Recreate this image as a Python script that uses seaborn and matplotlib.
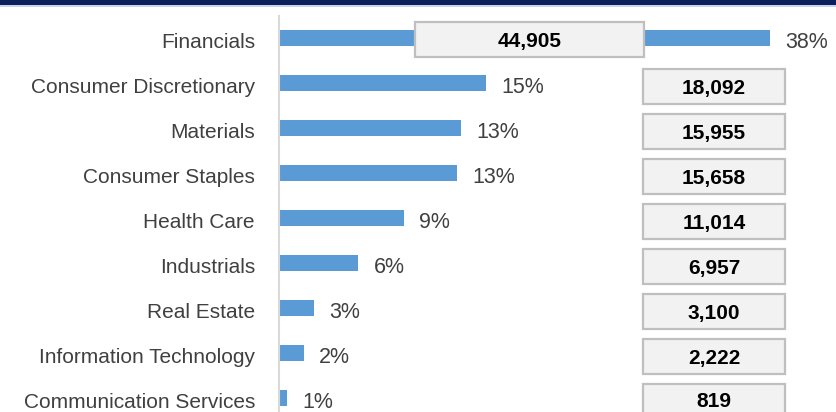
import matplotlib
matplotlib.use("Agg")
import matplotlib.pyplot as plt
import matplotlib.transforms as mtrans
import seaborn as sns
import pandas as pd
from matplotlib.patches import Rectangle

categories = ["Financials", "Consumer Discretionary", "Materials", "Consumer Staples",
              "Health Care", "Industrials", "Real Estate", "Information Technology",
              "Communication Services"]
shares = [37.8, 15.9, 14.0, 13.7, 9.6, 6.1, 2.7, 1.9, 0.6]
share_labels = ["38%", "15%", "13%", "13%", "9%", "6%", "3%", "2%", "1%"]
values = ["44,905", "18,092", "15,955", "15,658", "11,014", "6,957", "3,100", "2,222", "819"]

df = pd.DataFrame({"category": categories, "share": shares})

sns.set_theme(style="white")
plt.rcParams["font.family"] = ["Liberation Sans", "DejaVu Sans"]

W, H = 837, 412
fig = plt.figure(figsize=(W / 100, H / 100), dpi=100)
ax_left = 279 / W
ax_top_px = 16
ax = fig.add_axes([ax_left, 0, 1 - ax_left, (H - ax_top_px) / H])

sns.barplot(data=df, x="share", y="category", color="#5b9bd5", width=0.37,
            saturation=1, ax=ax, orient="h", linewidth=0)

px_per_unit = 12.99
ax.set_xlim(0, (W - 279) / px_per_unit)
row0 = 38
step = 45
ax.set_ylim((H - row0) / step, -(row0 - ax_top_px) / step)

for s in ["top", "right", "bottom"]:
    ax.spines[s].set_visible(False)
ax.spines["left"].set_color("#d9d9d9")
ax.spines["left"].set_linewidth(1.5)
ax.set_xticks([])
ax.set_xlabel("")
ax.set_ylabel("")
ax.set_yticks(range(len(categories)))
ax.set_yticklabels([])
ax.tick_params(axis="y", length=0)

shift = mtrans.ScaledTranslation(0, -2.5 / 100, fig.dpi_scale_trans)
for i, c in enumerate(categories):
    ax.text(-24 / px_per_unit, i, c, ha="right", va="center_baseline", fontsize=15,
            color="#404040", transform=ax.transData + shift)

for i, (s, lab) in enumerate(zip(shares, share_labels)):
    ax.text(s + 1.2, i + 2 / step, lab, ha="left", va="center_baseline",
            fontsize=15.5, color="#404040")

box_h = 35 / step
for i, v in enumerate(values):
    if i == 0:
        x0, x1 = (415 - 279) / px_per_unit, (644 - 279) / px_per_unit
        yc = i + 1.5 / step
    else:
        x0, x1 = (643 - 279) / px_per_unit, (785 - 279) / px_per_unit
        yc = i + 4 / step
    rect = Rectangle((x0, yc - box_h / 2), x1 - x0, box_h, facecolor="#f2f2f2",
                     edgecolor="#bfbfbf", linewidth=1.6, zorder=5)
    ax.add_patch(rect)
    ty = yc if i < len(values) - 1 else yc - 2 / step
    ax.text((x0 + x1) / 2, ty, v, ha="center", va="center_baseline",
            fontsize=15, fontweight="bold", color="#000000", zorder=6)

fig.patches.append(Rectangle((0, 1 - 5 / H), 1, 5 / H, transform=fig.transFigure,
                             facecolor="#0b1f5c", edgecolor="none", zorder=10))
fig.patches.append(Rectangle((0, 1 - 6.5 / H), 1, 1.5 / H, transform=fig.transFigure,
                             facecolor="#c8d4ea", edgecolor="none", zorder=10))

fig.savefig("out.png", dpi=100)
